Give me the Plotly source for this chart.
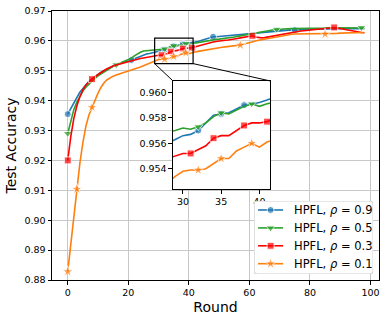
import plotly.graph_objects as go

# Datos
rounds = list(range(99))

acc_09 = [0.9355, 0.9375, 0.9392, 0.9410, 0.9428, 0.9440, 0.9455, 0.9465, 0.9473, 0.9481,
          0.9488, 0.9495, 0.9500, 0.9506, 0.9511, 0.9516, 0.9519, 0.9523, 0.9527, 0.9531,
          0.9533, 0.9536, 0.9540, 0.9545, 0.9549, 0.9553, 0.9556, 0.9558, 0.9560, 0.9563,
          0.9566, 0.9567, 0.9570, 0.9576, 0.9582, 0.9583, 0.9584, 0.9587, 0.9590, 0.9591,
          0.9592, 0.9594, 0.9596, 0.9598, 0.9601, 0.9604, 0.9607, 0.9610, 0.9614, 0.9614,
          0.9615, 0.9616, 0.9616, 0.9617, 0.9618, 0.9618, 0.9619, 0.9621, 0.9622, 0.9623,
          0.9624, 0.9625, 0.9627, 0.9628, 0.9629, 0.9630, 0.9631, 0.9632, 0.9633, 0.9634,
          0.9634, 0.9635, 0.9635, 0.9636, 0.9636, 0.9636, 0.9637, 0.9637, 0.9638, 0.9638,
          0.9638, 0.9639, 0.9639, 0.9639, 0.9640, 0.9640, 0.9640, 0.9641, 0.9641, 0.9641,
          0.9641, 0.9642, 0.9642, 0.9641, 0.9642, 0.9642, 0.9642, 0.9642, 0.9641]

acc_05 = [0.9290, 0.9335, 0.9370, 0.9395, 0.9415, 0.9432, 0.9445, 0.9456, 0.9466, 0.9475,
          0.9483, 0.9490, 0.9497, 0.9503, 0.9509, 0.9515, 0.9520, 0.9524, 0.9528, 0.9532,
          0.9537, 0.9542, 0.9550, 0.9557, 0.9562, 0.9566, 0.9567, 0.9568, 0.9569, 0.9570,
          0.9572, 0.9571, 0.9573, 0.9576, 0.9581, 0.9584, 0.9583, 0.9586, 0.9589, 0.9591,
          0.9589, 0.9591, 0.9592, 0.9594, 0.9596, 0.9598, 0.9600, 0.9602, 0.9604, 0.9605,
          0.9606, 0.9607, 0.9608, 0.9609, 0.9611, 0.9613, 0.9615, 0.9617, 0.9618, 0.9619,
          0.9621, 0.9623, 0.9625, 0.9627, 0.9629, 0.9631, 0.9633, 0.9635, 0.9637, 0.9639,
          0.9639, 0.9640, 0.9640, 0.9640, 0.9641, 0.9641, 0.9641, 0.9642, 0.9642, 0.9642,
          0.9642, 0.9642, 0.9643, 0.9643, 0.9643, 0.9643, 0.9644, 0.9644, 0.9644, 0.9643,
          0.9643, 0.9644, 0.9644, 0.9644, 0.9644, 0.9645, 0.9645, 0.9645, 0.9643]

acc_03 = [0.9200, 0.9280, 0.9340, 0.9382, 0.9413, 0.9436, 0.9452, 0.9463, 0.9472, 0.9480,
          0.9488, 0.9495, 0.9501, 0.9507, 0.9512, 0.9516, 0.9519, 0.9522, 0.9525, 0.9528,
          0.9530, 0.9533, 0.9536, 0.9539, 0.9541, 0.9543, 0.9545, 0.9547, 0.9548, 0.9550,
          0.9552, 0.9552, 0.9555, 0.9558, 0.9564, 0.9566, 0.9566, 0.9570, 0.9574, 0.9576,
          0.9576, 0.9577, 0.9580, 0.9583, 0.9586, 0.9589, 0.9592, 0.9594, 0.9596, 0.9598,
          0.9600, 0.9601, 0.9602, 0.9603, 0.9604, 0.9606, 0.9608, 0.9610, 0.9612, 0.9614,
          0.9615, 0.9617, 0.9613, 0.9611, 0.9610, 0.9611, 0.9613, 0.9615, 0.9617, 0.9619,
          0.9621, 0.9623, 0.9625, 0.9627, 0.9629, 0.9630, 0.9632, 0.9633, 0.9634, 0.9635,
          0.9636, 0.9637, 0.9638, 0.9640, 0.9641, 0.9642, 0.9643, 0.9644, 0.9645, 0.9643,
          0.9641, 0.9638, 0.9636, 0.9634, 0.9632, 0.9630, 0.9629, 0.9628, 0.9627]

acc_01 = [0.8828, 0.8920, 0.9015, 0.9104, 0.9190, 0.9260, 0.9315, 0.9352, 0.9378, 0.9402,
          0.9425, 0.9445, 0.9460, 0.9470, 0.9477, 0.9482, 0.9486, 0.9490, 0.9493, 0.9496,
          0.9499, 0.9502, 0.9505, 0.9509, 0.9513, 0.9517, 0.9521, 0.9525, 0.9529, 0.9534,
          0.9538, 0.9539, 0.9539, 0.9540, 0.9544, 0.9548, 0.9548, 0.9554, 0.9557, 0.9560,
          0.9557, 0.9561, 0.9563, 0.9565, 0.9567, 0.9569, 0.9571, 0.9573, 0.9575, 0.9577,
          0.9578, 0.9579, 0.9580, 0.9581, 0.9582, 0.9583, 0.9585, 0.9586, 0.9589, 0.9592,
          0.9595, 0.9598, 0.9600, 0.9602, 0.9604, 0.9606, 0.9608, 0.9610, 0.9612, 0.9614,
          0.9616, 0.9618, 0.9620, 0.9621, 0.9622, 0.9623, 0.9623, 0.9624, 0.9624, 0.9624,
          0.9624, 0.9623, 0.9623, 0.9623, 0.9623, 0.9623, 0.9623, 0.9624, 0.9625, 0.9625,
          0.9626, 0.9626, 0.9627, 0.9627, 0.9628, 0.9628, 0.9628, 0.9628, 0.9628]

# rondas con marcador
marks_09 = [0, 21, 32, 35, 38, 48, 75]
marks_05 = [0, 16, 32, 35, 39, 69, 97]
marks_03 = [0, 8, 31, 34, 38, 41, 61, 88]
marks_01 = [0, 3, 8, 32, 35, 39, 57, 85]

labels = ['HPFL, <i>ρ</i> = 0.9', 'HPFL, <i>ρ</i> = 0.5',
          'HPFL, <i>ρ</i> = 0.3', 'HPFL, <i>ρ</i> = 0.1']

x_range = [-5.2, 102.8]
y_range = [0.88, 0.97]
zoom_x = [28.7, 41.4]
zoom_y = [0.9524, 0.9609]
inset_dx = [0.370, 0.667]
inset_dy = [0.338, 0.740]
# caja de la leyenda (eje auxiliar en unidades de píxel, 119 x 73)
legend_dx = [0.618, 0.982]
legend_dy = [0.0223, 0.2937]
legend_w, legend_h = 119, 73

series = [
    (acc_09, marks_09, '#1f77b4', 'circle', 7),
    (acc_05, marks_05, '#2ca02c', 'triangle-down', 8),
    (acc_03, marks_03, '#ff0000', 'square', 7),
    (acc_01, marks_01, '#ff7f0e', 'star', 8.5),
]

fig = go.Figure()
annotations = []

for k, ((acc, marks, color, symbol, ms), label) in enumerate(zip(series, labels)):
    sizes = [ms if i in marks else 0 for i in rounds]
    for xa, ya in [('x', 'y'), ('x2', 'y2')]:
        fig.add_trace(go.Scatter(
            x=rounds, y=acc, mode='lines+markers', name=label,
            line=dict(color=color, width=1.6),
            marker=dict(symbol=symbol, size=sizes, color=color),
            xaxis=xa, yaxis=ya, showlegend=False
        ))
    # leyenda
    row = 9 + 17.9 * k
    fig.add_trace(go.Scatter(
        x=[4, 16.5, 29], y=[row] * 3, mode='lines+markers',
        line=dict(color=color, width=1.6),
        marker=dict(symbol=symbol, size=[0, ms, 0], color=color),
        xaxis='x3', yaxis='y3', showlegend=False, hoverinfo='skip'
    ))
    annotations.append(dict(
        x=38, y=row, xref='x3', yref='y3', text=label, showarrow=False,
        xanchor='left', yanchor='middle', font=dict(size=11.5)
    ))


def to_x(p):
    return x_range[0] + p * (x_range[1] - x_range[0])


def to_y(p):
    return y_range[0] + p * (y_range[1] - y_range[0])


r = 3
legend_path = (f'M {r},0 L {legend_w - r},0 Q {legend_w},0 {legend_w},{r} '
               f'L {legend_w},{legend_h - r} Q {legend_w},{legend_h} {legend_w - r},{legend_h} '
               f'L {r},{legend_h} Q 0,{legend_h} 0,{legend_h - r} L 0,{r} Q 0,0 {r},0 Z')

shapes = [
    # fondo blanco del inset
    dict(type='rect', xref='x', yref='y', layer='between',
         x0=to_x(inset_dx[0]), x1=to_x(inset_dx[1]),
         y0=to_y(inset_dy[0]), y1=to_y(inset_dy[1]),
         fillcolor='white', line=dict(width=0)),
    # zona ampliada
    dict(type='rect', xref='x', yref='y', x0=zoom_x[0], x1=zoom_x[1],
         y0=zoom_y[0], y1=zoom_y[1], line=dict(color='black', width=1.2)),
    dict(type='line', xref='x', yref='y', x0=zoom_x[0], y0=zoom_y[0],
         x1=to_x(inset_dx[0]), y1=to_y(inset_dy[1]), line=dict(color='black', width=1)),
    dict(type='line', xref='x', yref='y', x0=zoom_x[1], y0=zoom_y[0],
         x1=to_x(inset_dx[1]), y1=to_y(inset_dy[1]), line=dict(color='black', width=1)),
    # marco de la leyenda
    dict(type='path', xref='x3', yref='y3', layer='below', path=legend_path,
         fillcolor='rgba(255,255,255,0.85)', line=dict(color='#cccccc', width=1)),
]

axis_common = dict(showline=True, linecolor='black', linewidth=1, mirror=True,
                   ticks='outside', ticklen=3.5, tickwidth=0.8, tickcolor='black',
                   zeroline=False, automargin=False)

fig.update_layout(
    width=387, height=322,
    margin=dict(l=52, r=8, t=11, b=42),
    plot_bgcolor='white', paper_bgcolor='white',
    font=dict(family='DejaVu Sans', size=9.5, color='black'),
    shapes=shapes, annotations=annotations, showlegend=False,
    xaxis=dict(range=x_range, tickvals=[0, 20, 40, 60, 80, 100], showgrid=True,
               gridcolor='#c8c8c8', gridwidth=1,
               title=dict(text='Round', font=dict(size=14), standoff=5), **axis_common),
    yaxis=dict(range=y_range, dtick=0.01, tick0=0.88, tickformat='.2f', showgrid=True,
               gridcolor='#c8c8c8', gridwidth=1,
               title=dict(text='Test Accuracy', font=dict(size=14), standoff=4), **axis_common),
    xaxis2=dict(domain=inset_dx, anchor='y2', range=zoom_x, tickvals=[30, 35, 40],
                showgrid=False, **axis_common),
    yaxis2=dict(domain=inset_dy, anchor='x2', range=zoom_y,
                tickvals=[0.954, 0.956, 0.958, 0.960], tickformat='.3f',
                showgrid=False, **axis_common),
    xaxis3=dict(domain=legend_dx, anchor='y3', range=[0, legend_w], visible=False,
                fixedrange=True),
    yaxis3=dict(domain=legend_dy, anchor='x3', range=[legend_h, 0], visible=False,
                fixedrange=True),
)

# quitar el margen del body para que la figura quede en (0, 0)
fig.write_html("out.html", config={'displayModeBar': False},
               post_script="document.body.style.margin='0';")
